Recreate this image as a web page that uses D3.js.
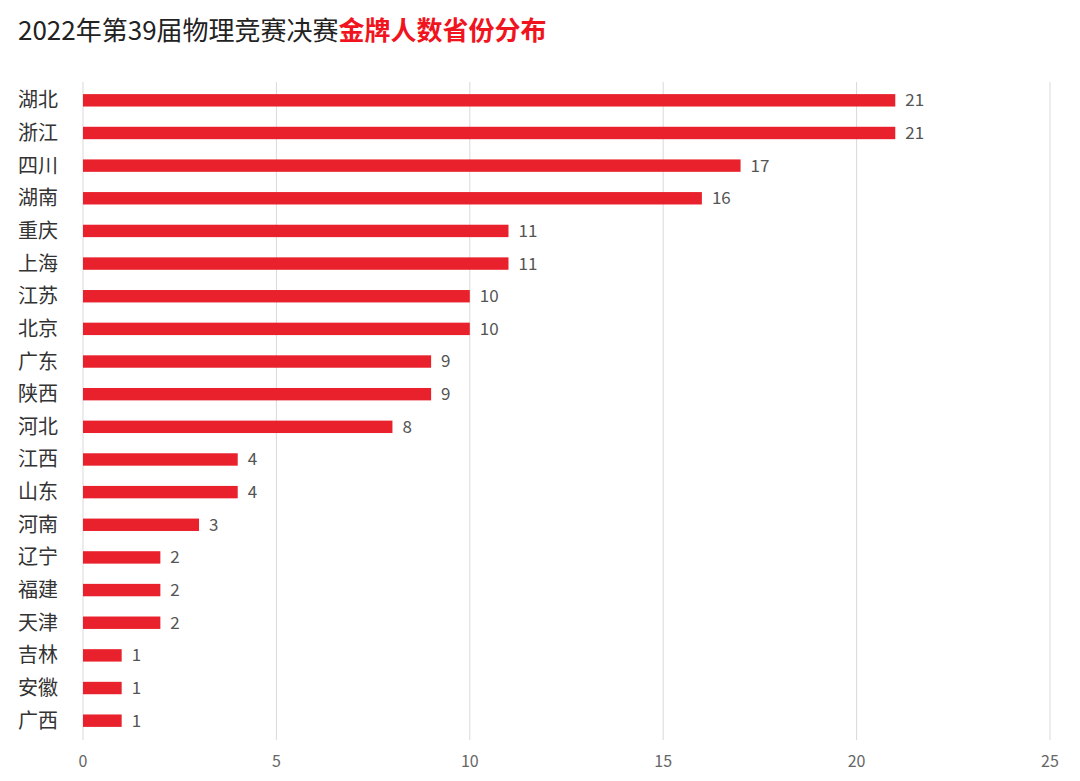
<!DOCTYPE html>
<html><head><meta charset="utf-8">
<script src="https://cdn.jsdelivr.net/npm/d3@7"></script>
<style>body{margin:0;background:#fff;font-family:"Noto Sans CJK SC","Noto Sans",sans-serif;}</style>
</head><body><svg id="chart" width="1080" height="781"></svg>
<script>
const provinces = ["湖北","浙江","四川","湖南","重庆","上海","江苏","北京","广东","陕西","河北","江西","山东","河南","辽宁","福建","天津","吉林","安徽","广西"];
const medals = [21,21,17,16,11,11,10,10,9,9,8,4,4,3,2,2,2,1,1,1];
const xTicks = [0,5,10,15,20,25];

const svg = d3.select("#chart");

const title = svg.append("text").attr("x", 18).attr("y", 40)
  .style("font-size", "26px");
title.append("tspan").attr("fill", "#222").text("2022年第39届物理竞赛决赛");
title.append("tspan").attr("fill", "#f0141e").style("font-weight", "bold").text("金牌人数省份分布");

const x = d3.scaleLinear().domain([0, 25]).range([83, 1050]);
const y = d3.scaleBand().domain(provinces).range([84, 737]).paddingInner(0.62).paddingOuter(0.31);

// gridlines
svg.selectAll(".grid").data(xTicks).enter().append("line")
  .attr("x1", d => x(d)).attr("x2", d => x(d))
  .attr("y1", 82).attr("y2", 740)
  .attr("stroke", "#d9d9d9").attr("stroke-width", 1);

// x axis labels
svg.selectAll(".xt").data(xTicks).enter().append("text")
  .attr("x", d => x(d)).attr("y", 767).attr("text-anchor", "middle")
  .attr("fill", "#666").style("font-size", "16px").text(d => d);

svg.selectAll(".bar").data(provinces).enter().append("rect")
  .attr("x", x(0)).attr("y", d => y(d))
  .attr("width", (d, i) => x(medals[i]) - x(0))
  .attr("height", y.bandwidth())
  .attr("fill", "#e8212c");

svg.selectAll(".cat").data(provinces).enter().append("text")
  .attr("x", 18).attr("y", d => y(d) + y.bandwidth() / 2).attr("dy", "0.35em")
  .attr("fill", "#333").style("font-size", "20px").text(d => d);

svg.selectAll(".val").data(provinces).enter().append("text")
  .attr("x", (d, i) => x(medals[i]) + 10).attr("y", d => y(d) + y.bandwidth() / 2).attr("dy", "0.35em")
  .attr("fill", "#555").style("font-size", "17px").text((d, i) => medals[i]);
</script></body></html>
